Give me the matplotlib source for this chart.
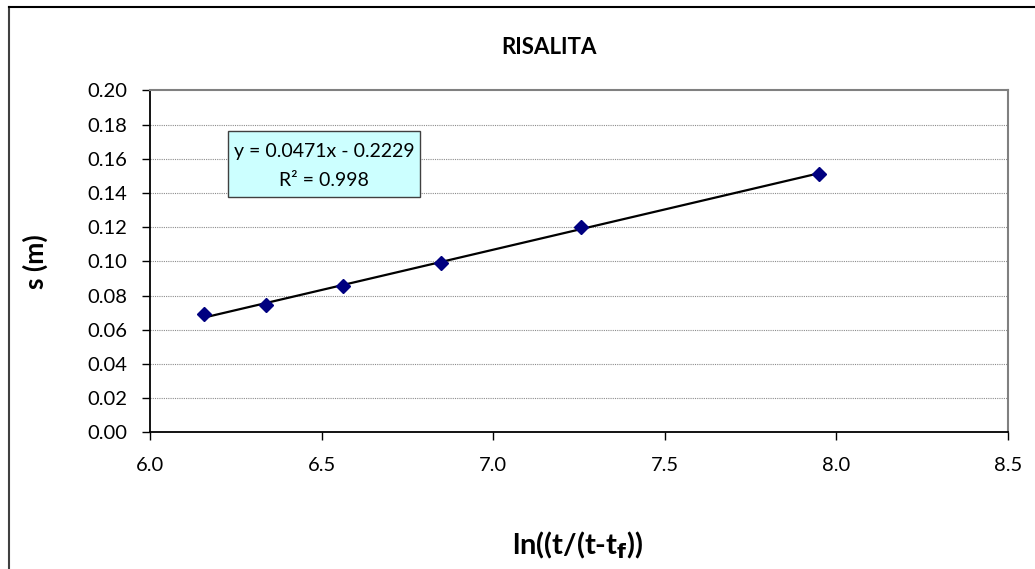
import numpy as np
import matplotlib
matplotlib.use("Agg")
import matplotlib.pyplot as plt
from matplotlib.lines import Line2D
from matplotlib.patches import Rectangle

plt.rcParams['font.family'] = ['Lato', 'DejaVu Sans']

# data
x_ln = [6.157, 6.338, 6.562, 6.848, 7.255, 7.950]
s_m = [0.069, 0.0745, 0.0855, 0.099, 0.120, 0.151]
slope = 0.0471
intercept = -0.2229
r2 = 0.998
x_ticks = [6.0, 6.5, 7.0, 7.5, 8.0, 8.5]
y_ticks = [0.00, 0.02, 0.04, 0.06, 0.08, 0.10, 0.12, 0.14, 0.16, 0.18, 0.20]

fig = plt.figure(figsize=(10.35, 5.69), dpi=100)
ax = fig.add_axes([0.1449, 0.2402, 0.829, 0.601])

# chart area border (left and top visible)
fig.add_artist(Line2D([9 / 1035, 9 / 1035], [0, 1 - 7 / 569], color='#404040', lw=1.5))
fig.add_artist(Line2D([9 / 1035, 1], [1 - 7 / 569, 1 - 7 / 569], color='black', lw=1.5))

for yv in y_ticks[1:-1]:
    ax.axhline(yv, color='#8c8c8c', lw=0.8, ls=(0, (1, 1)), zorder=1)

xf = np.array([x_ln[0], x_ln[-1]])
ax.plot(xf, slope * xf + intercept, color='black', lw=1.6, zorder=2)
ax.plot(x_ln, s_m, ls='none', marker='D', ms=7.5, color='#000080', zorder=3)

ax.set_xlim(6.0, 8.5)
ax.set_ylim(0.0, 0.20)
ax.set_xticks(x_ticks)
ax.set_xticklabels([f'{v:.1f}' for v in x_ticks])
ax.set_yticks(y_ticks)
ax.set_yticklabels([f'{v:.2f}' for v in y_ticks])
ax.tick_params(direction='out', length=6, width=1, colors='black', labelsize=14.5)
ax.tick_params(axis='x', pad=12)
ax.tick_params(axis='y', pad=10)

for side in ['left', 'bottom']:
    ax.spines[side].set_color('black')
    ax.spines[side].set_linewidth(1.3)
for side in ['top', 'right']:
    ax.spines[side].set_color('#808080')
    ax.spines[side].set_linewidth(1.5)

# equation box
ax.add_patch(Rectangle((0.0909, 0.688), 0.2238, 0.193, transform=ax.transAxes,
                       facecolor='#ccffff', edgecolor='#404040', lw=1, zorder=4))
ax.text(0.2028, 0.8205, f'y = {slope}x - {abs(intercept)}', transform=ax.transAxes,
        ha='center', va='center', fontsize=14, zorder=5)
ax.text(0.2028, 0.7377, f'R² = {r2}', transform=ax.transAxes,
        ha='center', va='center', fontsize=14, zorder=5)

fig.text(549 / 1035, 1 - 47 / 569, 'RISALITA', ha='center', va='center',
         fontsize=16, fontweight='bold')
fig.text(35 / 1035, 1 - 262 / 569, 's (m)', ha='center', va='center',
         rotation=90, fontsize=19, fontweight='bold')
fig.text(578 / 1035, 1 - 545 / 569, r'ln((t/(t-t$_\mathbf{f}$))', ha='center', va='center',
         fontsize=21, fontweight='bold')

fig.savefig('out.png', dpi=100)
